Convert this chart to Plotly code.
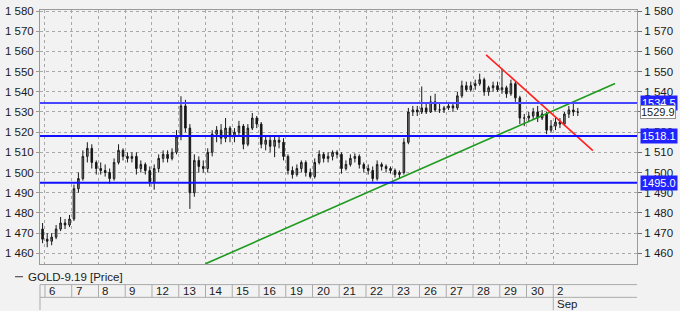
import plotly.graph_objects as go

# ---- data ----
day_labels = ["6", "7", "8", "9", "12", "13", "14", "15", "16", "19",
              "20", "21", "22", "23", "26", "27", "28", "29", "30", "2"]
month_label = "Sep"
month_day_index = 19
slots_per_day = 6

pre_open, pre_high, pre_low, pre_close = 1472, 1475, 1465, 1467

opens = [
    1467, 1466, 1468, 1472, 1475, 1474,
    1477, 1492, 1497, 1508, 1512, 1505,
    1502, 1501, 1500, 1497, 1505, 1511,
    1508, 1507, 1508, 1502, 1504, 1501,
    1495, 1502, 1507, 1509, 1507, 1510,
    1518, 1533, 1522, 1490, 1506, 1503,
    1502, 1510, 1519, 1521, 1517, 1522,
    1518, 1520, 1523, 1514, 1522, 1527,
    1524, 1514, 1516, 1513, 1516, 1515,
    1508, 1501, 1499, 1502, 1505, 1500,
    1498, 1505, 1509, 1507, 1508, 1510,
    1509, 1502, 1504, 1507, 1508, 1504,
    1502, 1501, 1497, 1504, 1503, 1502,
    1501, 1499, 1500, 1515, 1530, 1531,
    1530, 1532, 1530, 1535, 1531, 1531,
    1532, 1533, 1532, 1538, 1543, 1541,
    1543, 1544, 1546, 1540, 1542, 1543,
    1541, 1542, 1539, 1544, 1537, 1527,
    1527, 1528, 1530, 1527, 1529, 1521,
    1523, 1525, 1524, 1529, 1531, 1530,
]
highs = [
    1470, 1470, 1474, 1478, 1477, 1479,
    1494, 1500, 1511, 1515, 1514, 1506,
    1505, 1504, 1502, 1507, 1514, 1512,
    1510, 1510, 1510, 1506, 1505, 1503,
    1504, 1509, 1511, 1511, 1512, 1521,
    1537.8, 1536, 1524, 1509, 1508, 1506,
    1512, 1521, 1523, 1524, 1527, 1523,
    1522, 1525.6, 1524, 1524, 1529.5, 1528,
    1525, 1518, 1518, 1518, 1518, 1517,
    1509, 1503, 1504, 1506, 1506, 1502,
    1507, 1511, 1510, 1510, 1511, 1511,
    1510, 1506, 1509, 1509.5, 1509, 1505,
    1504, 1503, 1506, 1505, 1504, 1503,
    1502, 1501, 1517, 1532, 1533, 1533,
    1542.6, 1534, 1538, 1539, 1534, 1533,
    1535, 1534, 1540, 1545.5, 1545, 1545,
    1546, 1549, 1547, 1543, 1545, 1545,
    1551.5, 1543, 1546, 1545, 1538, 1529,
    1530, 1532, 1533, 1531, 1530, 1526,
    1527, 1527, 1530, 1533, 1534, 1532,
]
lows = [
    1463, 1464, 1467, 1471, 1472, 1473,
    1476, 1490, 1496, 1505, 1502, 1499,
    1499, 1498, 1494.5, 1496, 1504, 1506,
    1505, 1505, 1499, 1500, 1499, 1493,
    1491.5, 1500, 1505, 1505, 1506, 1509,
    1516, 1520, 1482, 1488, 1500, 1500,
    1500, 1508, 1515, 1514, 1515, 1515,
    1515, 1518, 1511.5, 1513, 1521, 1522,
    1512, 1511, 1510, 1507.6, 1512, 1506,
    1499, 1497, 1498, 1500, 1498, 1497,
    1497, 1504, 1505, 1505, 1506, 1507,
    1499.5, 1501, 1503, 1505, 1502, 1500,
    1499, 1495.5, 1496, 1501, 1500, 1499.5,
    1497.5, 1497, 1499, 1514, 1528, 1528,
    1529, 1529, 1529.5, 1530, 1529.5, 1529.5,
    1531, 1530, 1531, 1537, 1540, 1540,
    1541, 1543, 1538, 1538, 1540, 1540,
    1539, 1537, 1538, 1535, 1524, 1523,
    1525, 1526, 1525, 1526, 1519, 1520,
    1521, 1522, 1523, 1527, 1528, 1528,
]
closes = [
    1466, 1468, 1472, 1475, 1474, 1477,
    1492, 1497, 1508, 1512, 1505, 1502,
    1501, 1500, 1497, 1505, 1511, 1508,
    1507, 1508, 1502, 1504, 1501, 1495,
    1502, 1507, 1509, 1507, 1510, 1518,
    1533, 1522, 1490, 1506, 1503, 1502,
    1510, 1519, 1521, 1517, 1522, 1518,
    1520, 1523, 1514, 1522, 1527, 1524,
    1514, 1516, 1513, 1516, 1515, 1508,
    1501, 1499, 1502, 1505, 1500, 1498,
    1505, 1509, 1507, 1508, 1510, 1509,
    1502, 1504, 1507, 1508, 1504, 1502,
    1501, 1497, 1504, 1503, 1502, 1501,
    1499, 1500, 1515, 1530, 1531, 1530,
    1532, 1530, 1535, 1531, 1531, 1532,
    1533, 1532, 1538, 1543, 1541, 1543,
    1544, 1546, 1540, 1542, 1543, 1541,
    1542, 1539, 1544, 1537, 1527, 1527,
    1528, 1530, 1527, 1529, 1521, 1523,
    1525, 1524, 1529, 1531, 1530, 1529.9,
]

level_values = [1534.5, 1518.1, 1495.0]
last_price = 1529.9

# trend lines (day-index, price)
green_x = [6.0, 21.31]
green_y = [1454.8, 1544.1]
red_x = [16.49, 20.48]
red_y = [1558.3, 1510.9]

ytick_vals = [1460, 1470, 1480, 1490, 1500, 1510, 1520, 1530, 1540, 1550, 1560, 1570, 1580]
ytick_text = ["1 460", "1 470", "1 480", "1 490", "1 500", "1 510", "1 520",
              "1 530", "1 540", "1 550", "1 560", "1 570", "1 580"]

series_name = "GOLD-9.19 [Price]"

# ---- build ----
FONT = "Liberation Sans, Arial, sans-serif"
BG = "#f2f2f2"
GRID = "#a8a8a8"

n = len(closes)
xs = [-0.09] + [(i // slots_per_day) + ((i % slots_per_day) + 0.5) / slots_per_day for i in range(n)]
O = [pre_open] + opens
H = [pre_high] + highs
L = [pre_low] + lows
C = [pre_close] + closes

YR = [1454.7, 1580.5]
XR = [-0.186, 22.13]

fig = go.Figure()
fig.add_trace(go.Candlestick(
    x=xs, open=O, high=H, low=L, close=C,
    increasing=dict(line=dict(color="#1a1a1a", width=1), fillcolor="#8a8a8a"),
    decreasing=dict(line=dict(color="#1a1a1a", width=1), fillcolor="#111111"),
    whiskerwidth=0, showlegend=False, hoverinfo="skip",
))
fig.add_trace(go.Scatter(x=green_x, y=green_y, mode="lines",
                         line=dict(color="#1e9a1e", width=1.6), showlegend=False, hoverinfo="skip"))
fig.add_trace(go.Scatter(x=red_x, y=red_y, mode="lines",
                         line=dict(color="#ff2020", width=1.6), showlegend=False, hoverinfo="skip"))
# invisible trace to anchor right axis
fig.add_trace(go.Scatter(x=[xs[0]], y=[C[0]], yaxis="y2", mode="markers",
                         marker=dict(opacity=0), showlegend=False, hoverinfo="skip"))

shapes = []
level_colors = ["#4646ff", "#1010ff", "#1010ff"]
for v, col in zip(level_values, level_colors):
    shapes.append(dict(type="line", xref="paper", x0=0, x1=1, yref="y", y0=v, y1=v,
                       line=dict(color=col, width=2)))

# bottom date strip
H_PLOT = 259.0
def py(pix):
    return (264 - pix) / H_PLOT

strip_col = "#ababab"
shapes.append(dict(type="line", xref="paper", x0=0, x1=1, yref="paper", y0=py(285), y1=py(285),
                   line=dict(color=strip_col, width=1)))
shapes.append(dict(type="line", xref="paper", x0=0, x1=1, yref="paper", y0=py(298), y1=py(298),
                   line=dict(color=strip_col, width=1)))
shapes.append(dict(type="line", xref="paper", x0=0, x1=0, yref="paper", y0=py(285), y1=py(311),
                   line=dict(color=strip_col, width=1)))
for i in range(len(day_labels)):
    shapes.append(dict(type="line", xref="x", x0=i, x1=i, yref="paper", y0=py(285), y1=py(298),
                       line=dict(color=strip_col, width=1)))
shapes.append(dict(type="line", xref="x", x0=month_day_index, x1=month_day_index, yref="paper",
                   y0=py(298), y1=py(311), line=dict(color=strip_col, width=1)))
# legend dash
shapes.append(dict(type="line", xref="paper", x0=(13 - 38) / 599, x1=(21 - 38) / 599,
                   yref="paper", y0=py(277), y1=py(277), line=dict(color="#333333", width=1)))

annotations = []
for i, lab in enumerate(day_labels):
    annotations.append(dict(x=i, xref="x", y=py(291.5), yref="paper", text=lab, showarrow=False,
                            xanchor="left", yanchor="middle", xshift=2,
                            font=dict(family=FONT, size=11.5, color="#1a1a1a")))
annotations.append(dict(x=month_day_index, xref="x", y=py(305), yref="paper", text=month_label,
                        showarrow=False, xanchor="left", yanchor="middle", xshift=2,
                        font=dict(family=FONT, size=11.5, color="#1a1a1a")))
annotations.append(dict(x=(24 - 38) / 599, xref="paper", y=py(277), yref="paper", text=series_name,
                        showarrow=False, xanchor="left", yanchor="middle",
                        font=dict(family=FONT, size=11.5, color="#1a1a1a")))
for v in level_values:
    annotations.append(dict(x=1, xref="paper", y=v, yref="y", text=f"{v:.1f}", showarrow=False,
                            xanchor="left", yanchor="middle", xshift=3,
                            bgcolor="#2222ff", borderpad=1,
                            font=dict(family=FONT, size=11, color="white")))
annotations.append(dict(x=1, xref="paper", y=last_price, yref="y", text=f"{last_price:.1f}",
                        showarrow=False, xanchor="left", yanchor="middle", xshift=3,
                        bgcolor="white", bordercolor="#909090", borderwidth=1, borderpad=0,
                        font=dict(family=FONT, size=11, color="#1a1a1a")))

axis_font = dict(family=FONT, size=11.5, color="#1a1a1a")
fig.update_layout(
    width=680, height=311,
    margin=dict(l=38, r=43, t=5, b=47),
    paper_bgcolor=BG, plot_bgcolor=BG,
    showlegend=False, boxgap=0.5,
    xaxis=dict(range=XR, tickvals=list(range(len(day_labels))), showticklabels=False,
               showgrid=True, gridcolor=GRID, griddash="dot", gridwidth=1,
               zeroline=False, ticks="", showline=True, linecolor="#9a9a9a", mirror=True,
               rangeslider=dict(visible=False), fixedrange=True),
    yaxis=dict(range=YR, tickvals=ytick_vals, ticktext=ytick_text, tickfont=axis_font,
               showgrid=True, gridcolor=GRID, griddash="dot", gridwidth=1, zeroline=False,
               ticks="outside", ticklen=3, tickcolor="#9a9a9a",
               showline=True, linecolor="#9a9a9a", mirror=True),
    yaxis2=dict(range=YR, overlaying="y", side="right", tickvals=ytick_vals, ticktext=ytick_text,
                tickfont=axis_font, showgrid=False, zeroline=False,
                ticks="outside", ticklen=4, tickcolor="#707070",
                showline=True, linecolor="#9a9a9a"),
    shapes=shapes, annotations=annotations,
)

fig.write_html("out.html")
